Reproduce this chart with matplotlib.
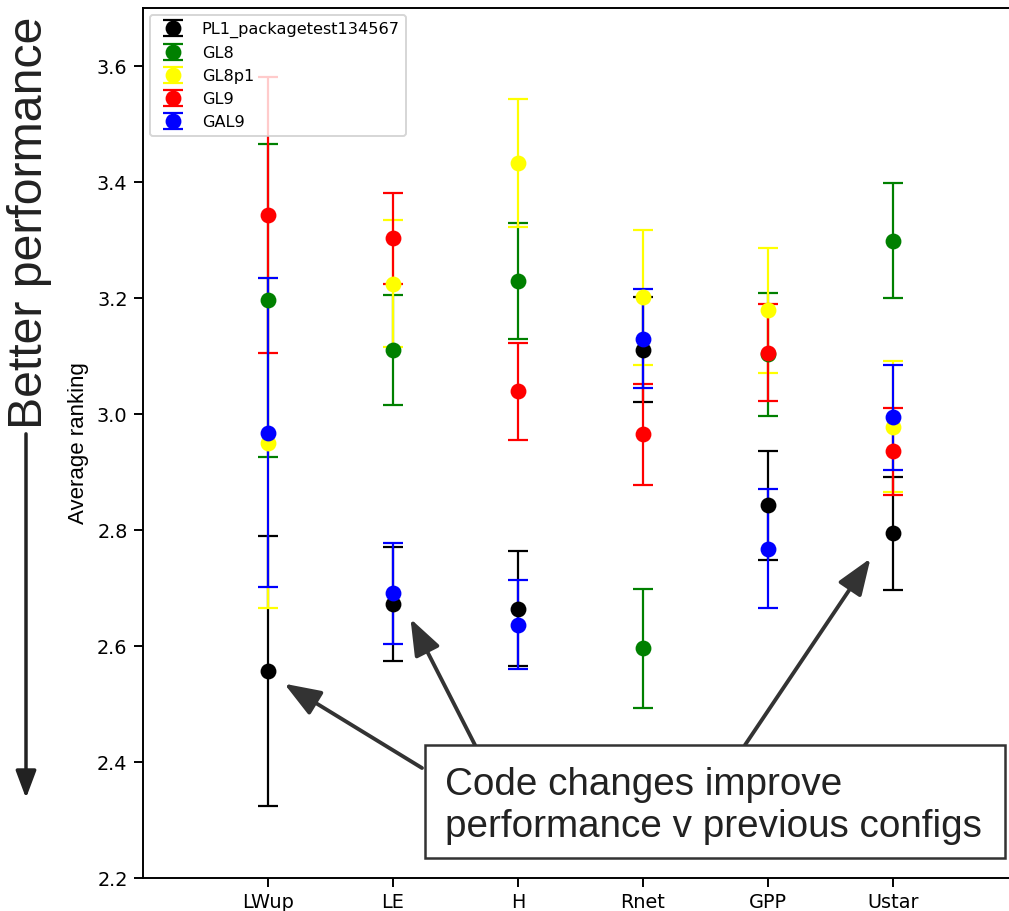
import matplotlib
matplotlib.use("Agg")
import matplotlib.pyplot as plt
from matplotlib.patches import Rectangle, FancyArrowPatch

variables = ["LWup", "LE", "H", "Rnet", "GPP", "Ustar"]
models = ["PL1_packagetest134567", "GL8", "GL8p1", "GL9", "GAL9"]
colors = ["black", "green", "yellow", "red", "blue"]

pl1_mean = [2.557, 2.672, 2.664, 3.111, 2.843, 2.794]
pl1_err = [0.233, 0.098, 0.099, 0.090, 0.094, 0.097]
gl8_mean = [3.196, 3.111, 3.230, 2.596, 3.103, 3.299]
gl8_err = [0.270, 0.095, 0.100, 0.103, 0.106, 0.099]
gl8p1_mean = [2.950, 3.225, 3.433, 3.201, 3.179, 2.978]
gl8p1_err = [0.285, 0.110, 0.110, 0.117, 0.108, 0.113]
gl9_mean = [3.343, 3.303, 3.039, 2.965, 3.106, 2.936]
gl9_err = [0.238, 0.078, 0.083, 0.087, 0.084, 0.075]
gal9_mean = [2.968, 2.691, 2.637, 3.130, 2.768, 2.994]
gal9_err = [0.267, 0.087, 0.077, 0.086, 0.103, 0.091]

means = [pl1_mean, gl8_mean, gl8p1_mean, gl9_mean, gal9_mean]
errs = [pl1_err, gl8_err, gl8p1_err, gl9_err, gal9_err]

# the black (PL1) points the annotation arrows point at
highlight = [0, 1, 5]

DPI = 139
W, H = 1009, 911
ARIAL = ["Liberation Sans", "DejaVu Sans"]

fig = plt.figure(figsize=(W / DPI, H / DPI), dpi=DPI)
ax = fig.add_axes([143 / W, 33 / H, 875 / W, 870 / H])

xs = list(range(len(variables)))
for name, c, m, e in zip(models, colors, means, errs):
    ax.errorbar(xs, m, yerr=e, fmt="o", color=c, ecolor=c, ms=7.2,
                capsize=5, elinewidth=1.15, capthick=1.15, label=name)

ax.set_xlim(-1, 6)
ax.set_ylim(2.2, 3.7)
ax.set_xticks(xs)
ax.set_xticklabels(variables)
ax.set_yticks([2.2, 2.4, 2.6, 2.8, 3.0, 3.2, 3.4, 3.6])
ax.tick_params(length=4.5, width=1.0)
for s in ax.spines.values():
    s.set_linewidth(1.0)
ax.set_ylabel("Average ranking", family=ARIAL, fontsize=11.5)
ax.yaxis.set_label_coords(-0.062, 0.5)
ax.legend(loc="upper left", fontsize="small", borderaxespad=0.45)

# left-hand "better performance" note
fig.text(30 / W, 1 - 223 / H, "Better performance", rotation=90,
         ha="center", va="center", family=ARIAL, fontsize=25, color="#222")
fig.add_artist(FancyArrowPatch((26 / W, 1 - 430 / H), (26 / W, 1 - 802 / H),
                               transform=fig.transFigure,
                               arrowstyle="-|>,head_length=0.8,head_width=0.3",
                               mutation_scale=15, lw=1.8, color="#222"))

# call-out box with arrows to the improved points
fig.add_artist(Rectangle((425 / W, 1 - 858 / H), 580 / W, 113 / H,
                         transform=fig.transFigure, facecolor="white",
                         edgecolor="#333", lw=1.3, zorder=5))
fig.text(445 / W, 1 - 806 / H, "Code changes improve\nperformance v previous configs",
         ha="left", va="center", family=ARIAL, fontsize=20, color="#222",
         linespacing=1.2, zorder=6)

tails = [(422, 768), (475, 745), (745, 745)]
offsets = [(0.13, -0.022), (0.14, -0.025), (-0.18, -0.043)]
for i, (tx, ty), (dx, dy) in zip(highlight, tails, offsets):
    ax.annotate("", xy=(i + dx, pl1_mean[i] + dy), xycoords="data",
                xytext=(tx / W, 1 - ty / H), textcoords="figure fraction",
                arrowprops=dict(arrowstyle="-|>,head_length=0.8,head_width=0.3",
                                mutation_scale=20, lw=2.0, color="#333",
                                shrinkA=0, shrinkB=0),
                annotation_clip=False)

fig.savefig("out.png", dpi=DPI, facecolor="white")
